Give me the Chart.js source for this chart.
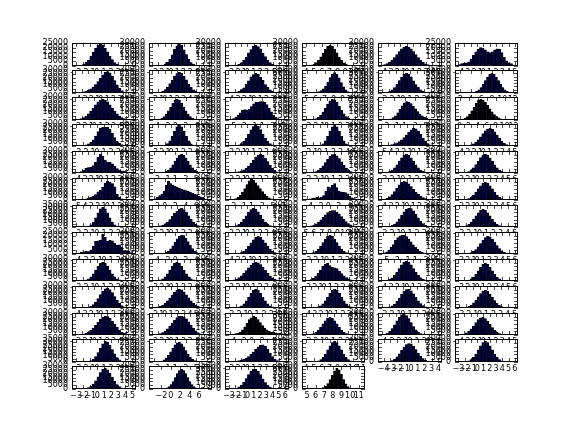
<!DOCTYPE html>
<html>
<head>
<meta charset="utf-8">
<script src="https://cdn.jsdelivr.net/npm/chart.js@4.4.1/dist/chart.umd.min.js"></script>
<style>
  body { margin: 0; background: #fff; }
  #fig { position: relative; width: 576px; height: 432px; overflow: hidden; background: #fff; }
  #fig canvas { position: absolute; }
</style>
</head>
<body>
<div id="fig"></div>
<script>
// Histogram counts per panel (in thousands), 24 equal bins spanning xLimits.
// Panels go row by row, 6 per row; the last row only has 4.
const counts = [
    // row 1
    [0.2,0.4,1.0,2.1,3.9,6.5,10.8,15.0,19.6,22.5,24.0,23.1,19.2,15.3,10.4,6.9,3.7,2.1,1.1,0.5,0.3,0.1,0.1,0.05],
    [0.05,0.1,0.2,0.4,1.0,2.2,4.7,8.9,14.6,21.6,26.3,28.5,26.8,21.1,15.0,8.6,4.5,2.1,0.9,0.4,0.2,0.1,0.05,0.02],
    [0.1,0.2,0.6,1.2,2.4,4.1,7.8,11.6,17.3,21.5,25.9,27.0,25.2,22.3,16.6,12.2,7.3,4.5,2.2,1.2,0.5,0.2,0.1,0.05],
    [0.2,0.6,1.1,2.3,4.4,7.5,12.0,16.8,22.0,25.5,27.0,25.8,21.7,17.2,11.7,7.7,4.2,2.4,1.1,0.5,0.2,0.1,0.05,0.02],
    [1.2,1.9,3.2,5.0,7.7,11.0,14.8,18.8,22.3,24.7,25.5,24.7,22.3,18.8,14.8,10.9,7.5,4.8,2.9,1.7,0.9,0.4,0.2,0.1],
    [1.5,2.5,3.0,3.5,4.5,7.5,11.5,15.5,18.5,20.0,19.5,17.5,15.5,14.5,15.5,17.5,18.7,18.0,14.5,9.5,5.5,3.5,2.5,1.0],
    // row 2
    [0.2,0.4,0.8,1.4,2.3,3.6,5.4,7.8,11.0,15.0,19.5,23.8,27.0,28.0,26.4,22.0,16.3,10.8,6.2,3.2,1.5,0.6,0.3,0.1],
    [0.1,0.3,0.5,1.0,2.2,4.4,7.5,12.2,16.8,22.1,25.4,27.0,25.9,21.6,17.2,11.6,7.8,4.2,2.4,1.0,0.5,0.2,0.1,0.05],
    [0.1,0.3,0.5,1.1,2.1,4.3,6.9,11.5,15.8,21.0,24.0,25.5,24.6,20.3,16.4,10.9,7.3,4.0,2.3,0.9,0.5,0.2,0.1,0.05],
    [0.1,0.2,0.4,0.7,1.2,2.0,3.5,6.2,10.5,16.5,23.5,28.8,31.0,28.6,23.0,15.8,9.4,4.8,2.1,0.9,0.3,0.1,0.05,0.02],
    [0.2,0.5,1.2,2.6,4.8,8.4,13.2,18.9,24.3,28.5,30.0,28.4,24.5,18.7,13.0,8.5,4.7,2.6,1.2,0.5,0.2,0.1,0.05,0.02],
    [0.05,0.05,0.1,0.2,0.3,0.5,1.2,2.6,4.8,8.4,13.2,18.9,24.3,28.5,30.0,28.5,24.3,18.9,13.2,8.4,4.8,2.6,1.2,0.5],
    // row 3
    [0.5,0.9,1.8,3.1,5.1,8.0,11.6,15.7,19.9,23.6,26.1,27.0,26.1,23.6,19.9,15.7,11.6,8.0,5.1,3.1,1.8,0.9,0.5,0.2],
    [0.2,0.5,1.1,2.3,4.3,7.6,11.9,17.0,21.9,25.7,27.0,25.7,21.9,17.0,11.9,7.6,4.3,2.3,1.1,0.5,0.2,0.1,0.05,0.02],
    [1.0,2.0,3.5,6.0,9.5,12.5,13.5,13.0,14.0,17.5,21.0,23.0,23.5,24.0,24.0,23.0,20.0,15.5,10.5,6.5,3.5,2.0,1.0,0.5],
    [0.1,0.2,0.4,0.9,1.8,3.5,6.3,10.4,15.5,20.7,24.9,27.0,26.4,23.0,18.0,12.6,7.9,4.5,2.3,1.0,0.4,0.2,0.1,0.05],
    [0.1,0.3,0.7,1.5,3.0,5.5,9.2,13.8,18.6,22.3,24.0,23.5,21.4,18.2,14.6,11.1,8.0,5.5,3.6,2.2,1.3,0.7,0.4,0.2],
    [0.5,1.1,2.3,4.3,7.6,11.9,17.0,21.9,25.7,27.0,25.9,23.0,19.0,14.6,10.5,7.1,4.5,2.7,1.5,0.8,0.4,0.2,0.1,0.05],
    // row 4
    [0.1,0.2,0.4,0.8,1.5,2.8,5.0,8.5,13.5,19.5,24.5,25.5,25.5,25.3,23.0,17.5,11.5,6.8,3.6,1.8,0.8,0.4,0.2,0.1],
    [0.05,0.1,0.2,0.4,0.8,1.6,3.8,8.3,15.2,23.4,30.4,33.0,30.4,23.4,15.2,8.3,3.6,1.3,0.5,0.2,0.1,0.05,0.02,0.01],
    [0.1,0.2,0.4,0.8,1.7,3.4,6.3,10.6,16.2,22.0,26.6,28.5,26.8,22.3,16.4,10.7,6.2,3.2,1.5,0.6,0.2,0.1,0.05,0.02],
    [0.1,0.1,0.2,0.3,0.5,0.8,1.4,3.1,7.1,13.1,20.2,26.2,28.5,26.2,20.2,13.1,7.1,3.1,1.1,0.4,0.2,0.1,0.05,0.02],
    [0.2,0.4,0.7,1.2,1.9,2.9,4.2,6.0,8.4,11.4,15.0,18.8,22.2,24.0,23.5,20.5,15.8,10.8,6.5,3.4,1.6,0.7,0.3,0.1],
    [0.05,0.1,0.2,0.4,0.8,1.6,3.0,5.3,8.5,12.6,16.9,20.6,23.2,24.0,22.6,19.2,14.8,10.4,6.6,3.8,2.0,1.0,0.4,0.2],
    // row 5
    [0.5,1.0,2.0,4.0,6.5,7.5,8.0,10.0,15.0,21.5,25.5,23.0,17.5,15.0,14.5,12.5,9.0,6.0,4.0,3.0,2.5,1.5,0.8,0.3],
    [0.05,0.1,0.2,0.5,1.0,2.2,4.1,7.1,11.2,16.1,20.7,24.2,25.5,24.2,20.7,16.1,11.2,7.1,4.1,2.2,1.0,0.5,0.2,0.1],
    [0.3,0.5,0.8,1.2,1.9,2.9,4.4,6.6,9.6,13.4,17.6,21.6,24.6,25.5,24.0,20.4,15.6,10.7,6.5,3.5,1.7,0.7,0.3,0.1],
    [0.1,0.2,0.5,1.0,2.0,3.7,6.2,9.8,14.1,18.7,22.7,25.2,25.5,23.5,19.8,15.2,10.6,6.7,3.9,2.0,1.0,0.4,0.2,0.1],
    [0.2,0.5,1.0,2.2,4.1,7.1,11.2,16.1,20.7,24.2,25.5,24.2,20.7,16.1,11.2,7.1,4.1,2.2,1.0,0.5,0.2,0.1,0.05,0.02],
    [0.1,0.2,0.5,1.1,2.1,4.2,7.0,11.4,15.9,20.9,24.0,25.5,24.3,20.5,16.3,11.0,7.2,4.0,2.3,1.0,0.5,0.2,0.1,0.05],
    // row 6
    [0.2,0.4,0.6,1.0,1.6,2.5,3.6,5.0,7.5,11.0,13.5,17.5,23.0,25.5,24.5,22.5,18.0,8.0,3.5,1.5,0.7,0.3,0.1,0.05],
    [1.5,3.5,6.0,8.0,12.0,20.0,25.5,22.5,20.5,19.0,17.5,16.0,15.0,14.0,13.0,12.0,10.5,9.0,8.0,7.0,5.5,4.0,2.5,1.0],
    [0.3,0.8,1.8,3.5,6.5,10.5,15.5,21.0,26.0,28.5,27.0,23.5,19.5,15.5,11.5,8.0,5.0,3.0,1.6,0.8,0.4,0.2,0.1,0.05],
    [0.5,1.5,2.5,3.0,3.5,3.0,4.0,6.0,12.0,18.0,17.0,20.0,22.5,17.0,12.0,11.0,10.5,10.0,8.5,5.0,3.0,2.0,1.2,0.5],
    [0.5,1.1,2.2,4.2,7.3,11.4,16.0,20.6,24.1,25.5,24.6,21.9,18.3,14.4,10.8,7.7,5.2,3.4,2.1,1.3,0.8,0.4,0.2,0.1],
    [0.1,0.2,0.5,1.0,2.1,3.8,6.7,10.6,15.1,19.4,22.8,24.0,22.8,19.4,15.1,10.6,6.7,3.8,2.1,1.0,0.4,0.2,0.1,0.05],
    // row 7
    [0.05,0.1,0.2,0.3,0.6,1.3,3.5,7.9,14.5,22.4,29.0,31.5,29.0,22.4,14.5,7.9,3.5,1.3,0.5,0.2,0.1,0.05,0.02,0.01],
    [0.2,0.4,0.8,1.5,2.6,4.3,6.8,10.2,14.5,18.5,21.5,24.5,25.5,23.8,20.2,15.4,10.6,6.6,3.7,1.9,0.9,0.4,0.2,0.1],
    [0.2,0.4,0.9,1.9,3.7,6.6,10.6,15.4,20.2,23.9,25.5,24.3,20.8,15.8,10.8,6.6,3.6,1.8,0.8,0.3,0.1,0.05,0.02,0.01],
    [0.4,0.8,1.5,2.6,4.3,6.7,9.7,13.1,16.6,19.7,21.8,22.5,22.3,20.5,17.8,14.3,10.6,7.4,4.8,2.9,1.6,0.9,0.4,0.2],
    [0.1,0.2,0.5,1.0,2.2,4.1,7.1,11.2,16.1,20.7,24.2,25.5,25.2,21.9,17.4,12.4,8.0,4.6,2.4,1.1,0.5,0.2,0.1,0.05],
    [0.2,0.4,1.0,2.0,3.8,6.7,10.6,15.1,19.4,22.8,24.0,22.8,19.4,15.1,10.6,6.7,3.8,2.0,1.0,0.4,0.2,0.1,0.05,0.02],
    // row 8
    [0.5,1.0,2.0,2.5,3.0,2.8,4.5,9.0,14.5,15.0,15.5,22.5,19.0,14.5,15.5,15.0,12.0,10.0,10.5,8.0,4.0,3.8,3.5,1.5],
    [0.05,0.1,0.2,0.5,1.0,2.2,4.1,7.1,11.2,16.1,20.7,24.2,25.5,25.1,21.5,16.8,11.7,7.3,4.1,2.1,1.0,0.4,0.2,0.1],
    [0.05,0.1,0.2,0.4,1.0,2.0,3.8,6.7,10.6,15.1,19.4,22.8,24.0,22.8,19.4,15.1,10.6,6.7,3.8,2.0,1.0,0.4,0.2,0.1],
    [0.2,0.5,1.0,2.0,3.8,6.8,10.9,15.7,20.4,24.0,25.5,24.0,20.4,15.7,10.9,6.8,3.8,2.0,0.9,0.4,0.2,0.1,0.05,0.02],
    [1.5,3.0,5.5,9.0,13.0,18.8,22.3,24.7,25.5,25.3,23.6,20.5,16.6,12.6,9.1,6.2,4.0,2.4,1.4,0.8,0.4,0.2,0.1,0.05],
    [0.05,0.1,0.2,0.4,0.9,1.8,3.5,6.1,9.8,14.3,18.7,22.3,24.0,23.5,20.5,16.2,11.6,7.5,4.4,2.3,1.1,0.5,0.2,0.1],
    // row 9
    [0.05,0.1,0.3,0.7,1.5,3.1,5.8,9.8,14.9,20.0,24.0,25.5,24.0,20.0,14.9,9.8,5.8,3.1,1.5,0.7,0.3,0.1,0.05,0.02],
    [0.1,0.3,0.7,1.5,3.1,5.8,9.8,14.9,20.0,24.0,25.5,24.0,20.0,14.9,9.8,5.8,3.1,1.5,0.7,0.3,0.1,0.05,0.02,0.01],
    [0.4,0.8,1.5,2.7,4.5,7.0,10.3,14.1,18.0,21.6,24.3,25.5,24.9,22.5,18.9,14.7,10.6,7.1,4.4,2.6,1.4,0.7,0.3,0.1],
    [0.3,0.8,1.8,3.5,6.5,10.5,15.0,20.0,23.0,24.0,21.0,18.5,18.0,17.0,13.5,10.0,7.0,4.5,2.8,1.6,0.8,0.4,0.2,0.1],
    [0.2,0.5,1.1,2.3,4.3,7.6,11.9,17.0,21.9,25.7,27.0,25.7,21.9,17.0,11.9,7.6,4.3,2.3,1.1,0.5,0.2,0.1,0.05,0.02],
    [0.05,0.1,0.3,0.6,1.4,2.9,5.4,9.2,14.0,18.8,22.6,24.0,22.6,18.8,14.0,9.2,5.4,2.9,1.4,0.6,0.3,0.1,0.05,0.02],
    // row 10
    [0.02,0.05,0.1,0.2,0.5,1.1,2.4,4.6,8.0,12.8,18.2,23.2,26.3,27.0,25.0,20.9,15.6,10.4,6.2,3.3,1.6,0.7,0.3,0.1],
    [0.3,0.7,1.3,2.4,4.1,6.5,9.7,13.5,17.6,21.4,24.3,25.5,24.7,22.0,18.1,13.8,9.8,6.4,3.9,2.2,1.1,0.5,0.2,0.1],
    [0.05,0.1,0.3,0.7,1.5,3.1,5.8,9.8,14.9,20.0,24.0,25.5,24.0,20.0,14.9,9.8,5.8,3.1,1.5,0.7,0.3,0.1,0.05,0.02],
    [0.02,0.05,0.1,0.3,0.7,1.5,3.1,5.8,9.8,14.9,20.0,24.0,25.5,24.0,20.0,14.9,9.8,5.8,3.1,1.5,0.7,0.3,0.1,0.05],
    [0.1,0.3,0.7,1.5,3.0,5.5,9.1,13.6,18.5,22.6,25.1,25.5,23.4,19.4,14.6,9.9,6.1,3.4,1.7,0.8,0.3,0.1,0.05,0.02],
    [0.1,0.3,0.6,1.2,2.3,4.0,6.9,10.9,15.4,19.6,22.9,24.0,22.6,19.0,14.7,10.2,6.4,3.6,1.9,0.9,0.4,0.2,0.1,0.05],
    // row 11
    [0.1,0.3,0.6,1.2,2.2,3.8,6.2,9.4,13.2,17.3,21.2,24.1,25.5,25.0,22.6,18.8,14.5,10.3,6.8,4.1,2.3,1.2,0.6,0.3],
    [0.2,0.5,1.0,1.9,3.3,5.4,8.3,12.0,16.2,20.4,23.8,25.4,25.5,24.8,22.0,17.8,13.2,9.0,5.6,3.2,1.7,0.8,0.4,0.2],
    [0.5,1.0,2.0,2.5,4.0,7.0,11.0,16.0,21.0,23.5,25.5,24.0,21.0,17.0,13.0,9.5,7.0,5.0,4.0,3.5,3.0,2.0,2.5,1.5],
    [0.2,0.5,1.1,2.4,4.5,7.9,12.3,17.6,22.7,26.6,28.0,26.6,22.7,17.6,12.3,7.9,4.5,2.4,1.1,0.5,0.2,0.1,0.05,0.02],
    [0.4,1.1,2.5,4.9,8.8,13.8,19.4,24.6,27.8,28.5,26.5,22.4,17.0,11.6,7.1,3.9,1.9,0.9,0.4,0.2,0.1,0.05,0.02,0.01],
    [0.3,0.7,1.4,2.8,4.9,8.1,12.3,16.8,20.9,23.5,24.0,22.3,18.9,14.6,10.2,6.5,3.8,2.0,0.9,0.4,0.2,0.1,0.05,0.02],
    // row 12
    [0.02,0.05,0.1,0.2,0.4,0.9,2.0,4.3,8.4,14.3,21.3,27.8,31.5,30.2,25.7,19.0,12.3,6.9,3.4,1.5,0.6,0.2,0.1,0.05],
    [0.1,0.3,0.6,1.3,2.7,5.1,8.7,13.3,18.2,22.4,25.0,25.5,23.6,19.7,14.9,10.2,6.3,3.5,1.8,0.8,0.3,0.1,0.05,0.02],
    [0.2,0.4,0.7,1.1,1.7,2.5,3.6,5.1,7.2,9.9,13.0,16.4,19.8,22.0,22.5,20.5,16.5,11.5,7.0,3.8,1.8,0.8,0.3,0.1],
    [0.02,0.05,0.1,0.3,0.7,1.6,3.3,6.1,10.4,15.8,21.2,25.4,27.0,25.4,21.2,15.8,10.4,6.1,3.3,1.6,0.7,0.3,0.1,0.05],
    [0.1,0.2,0.4,1.0,2.0,3.8,6.7,10.6,15.1,19.4,22.8,24.0,23.6,20.6,16.2,11.7,7.6,4.5,2.4,1.2,0.5,0.2,0.1,0.05],
    [0.05,0.1,0.3,0.7,1.6,3.3,6.1,10.4,15.8,21.2,25.4,27.0,25.4,21.2,15.8,10.4,6.1,3.3,1.6,0.7,0.3,0.1,0.05,0.02],
    // row 13
    [0.03,0.07,0.15,0.35,0.8,1.7,3.4,6.3,10.6,16.0,21.4,25.6,27.0,25.1,20.9,15.5,10.1,5.8,3.1,1.5,0.6,0.25,0.1,0.04],
    [0.02,0.05,0.1,0.3,0.7,1.5,3.1,5.8,9.8,14.9,20.0,24.0,25.5,24.0,20.0,14.9,9.8,5.8,3.1,1.5,0.7,0.3,0.1,0.05],
    [0.1,0.3,0.7,1.5,3.2,6.0,10.3,16.0,22.1,27.3,29.8,30.0,27.1,21.8,15.6,9.9,5.6,2.8,1.2,0.5,0.2,0.1,0.05,0.02],
    [0.01,0.02,0.05,0.1,0.2,0.4,0.9,2.0,4.3,8.4,14.3,21.3,27.8,31.5,29.0,22.4,14.5,7.9,3.5,1.3,0.5,0.2,0.05,0.02]
];

// x extent of each histogram (also the axis limits)
const xLimits = [
    [-3,5],[-3,6],[-3,6],[4,11],[-4,5],[-4,5],
    [-4,5],[-2,7],[-4,5],[5,11],[-3,5],[2,12],
    [-3,6],[-4,6],[-5,5],[-3,5],[-3,7],[0,12],
    [-3,5],[-3,6],[-3,6],[-2,6],[-5,4],[-4,5],
    [-4,5],[-3,7],[-3,6],[-3,5],[-3,5],[-3,6],
    [-5,4],[-2,8],[-3,7],[-4,6],[-4,5],[-3,6],
    [-3,5],[-3,6],[-3,6],[5,12],[-3,5],[-3,5],
    [-4,4],[-4,6],[-4,5],[-3,5],[-5,5],[-3,6],
    [-3,5],[-3,6],[-3,6],[-3,6],[-4,5],[-3,6],
    [-4,5],[-2,7],[-3,5],[-4,5],[-3,5],[-3,5],
    [-3,6],[-3,6],[-4,6],[-3,5],[-4,4],[-4,5],
    [-3,5],[-3,7],[-3,6],[4,11],[-4.3,4.0],[-3.05,6.0],
    [-3.1,5.0],[-3.3,7.4],[-3.1,6.1],[4.95,11.2]
];

// top of each y axis
const yMax = [
    25000,30000,30000,30000,30000,25000,
    30000,30000,30000,35000,35000,35000,
    30000,30000,30000,30000,30000,30000,
    30000,35000,30000,30000,30000,30000,
    30000,30000,30000,30000,30000,30000,
    30000,30000,30000,30000,30000,30000,
    35000,30000,30000,30000,30000,30000,
    25000,30000,30000,30000,30000,30000,
    30000,30000,30000,30000,30000,30000,
    30000,30000,30000,30000,30000,30000,
    30000,30000,30000,35000,30000,30000,
    35000,30000,30000,30000,30000,30000,
    30000,30000,35000,35000
];

// panels whose bars are so dense they read as black
const densePanels = [3, 17, 32, 62, 75];

const cols = 6;
const grid = { left: 72, top: 43.2, width: 63.77, height: 22.44, stepX: 76.52, stepY: 26.93 };
// room around each axes box for its tick labels (top must exceed half a label + padding)
const margin = { left: 46, right: 12, top: 11, bottom: 14 };

Chart.defaults.font.family = 'DejaVu Sans';
Chart.defaults.font.size = 8;
Chart.defaults.color = '#000';

// white axes background, frame and inward ticks on all four sides
const panelFrame = {
    id: 'panelFrame',
    beforeDraw(chart) {
        const a = chart.chartArea, ctx = chart.ctx;
        ctx.save();
        ctx.fillStyle = '#fff';
        ctx.fillRect(a.left, a.top, a.right - a.left, a.bottom - a.top);
        ctx.restore();
    },
    afterDraw(chart) {
        const a = chart.chartArea, ctx = chart.ctx;
        const xs = chart.scales.x, ys = chart.scales.y;
        ctx.save();
        ctx.strokeStyle = '#000';
        ctx.lineWidth = 0.7;
        ctx.beginPath();
        xs.ticks.forEach(t => {
            const x = Math.round(xs.getPixelForValue(t.value)) + 0.5;
            ctx.moveTo(x, a.bottom); ctx.lineTo(x, a.bottom - 4);
            ctx.moveTo(x, a.top); ctx.lineTo(x, a.top + 4);
        });
        ys.ticks.forEach(t => {
            const y = Math.round(ys.getPixelForValue(t.value)) + 0.5;
            ctx.moveTo(a.left, y); ctx.lineTo(a.left + 4, y);
            ctx.moveTo(a.right, y); ctx.lineTo(a.right - 4, y);
        });
        ctx.stroke();
        ctx.lineWidth = 1;
        ctx.strokeRect(a.left + 0.5, a.top + 0.5, a.right - a.left - 1, a.bottom - a.top - 1);
        ctx.restore();
    }
};

const minusSign = v => (v < 0 ? '\u2212' + (-v) : String(v));

const fig = document.getElementById('fig');

counts.forEach((bins, k) => {
    const row = Math.floor(k / cols), col = k % cols;
    const L = Math.round(grid.left + col * grid.stepX);
    const R = Math.round(grid.left + col * grid.stepX + grid.width);
    const T = Math.round(grid.top + row * grid.stepY);
    const B = Math.round(grid.top + row * grid.stepY + grid.height);

    const canvas = document.createElement('canvas');
    canvas.width = R - L + margin.left + margin.right;
    canvas.height = B - T + margin.top + margin.bottom;
    canvas.style.left = (L - margin.left) + 'px';
    canvas.style.top = (T - margin.top) + 'px';
    fig.appendChild(canvas);

    const [lo, hi] = xLimits[k];
    const binW = (hi - lo) / bins.length;
    const dense = densePanels.includes(k);

    new Chart(canvas, {
        type: 'bar',
        data: {
            datasets: [{
                data: bins.map((v, i) => ({ x: lo + (i + 0.5) * binW, y: v * 1000 })),
                backgroundColor: dense ? '#000008' : '#00003a',
                borderColor: '#000',
                borderWidth: 0.6,
                barPercentage: 1,
                categoryPercentage: 1
            }]
        },
        options: {
            responsive: false,
            animation: false,
            devicePixelRatio: 1,
            events: [],
            layout: { padding: { top: margin.top, right: margin.right, left: 0, bottom: 0 } },
            plugins: { legend: { display: false }, tooltip: { enabled: false } },
            scales: {
                x: {
                    type: 'linear',
                    min: lo,
                    max: hi,
                    grid: { display: false, drawTicks: false },
                    border: { display: false },
                    ticks: {
                        stepSize: (hi - lo) > 9.5 ? 2 : 1,
                        includeBounds: false,
                        autoSkip: false,
                        minRotation: 0,
                        maxRotation: 0,
                        padding: 2,
                        callback: minusSign
                    },
                    afterFit: s => { s.height = margin.bottom; }
                },
                y: {
                    min: 0,
                    max: yMax[k],
                    grid: { display: false, drawTicks: false },
                    border: { display: false },
                    ticks: {
                        stepSize: 5000,
                        includeBounds: false,
                        autoSkip: false,
                        padding: 4,
                        callback: v => String(v)
                    },
                    afterFit: s => { s.width = margin.left; }
                }
            }
        },
        plugins: [panelFrame]
    });
});
</script>
</body>
</html>
